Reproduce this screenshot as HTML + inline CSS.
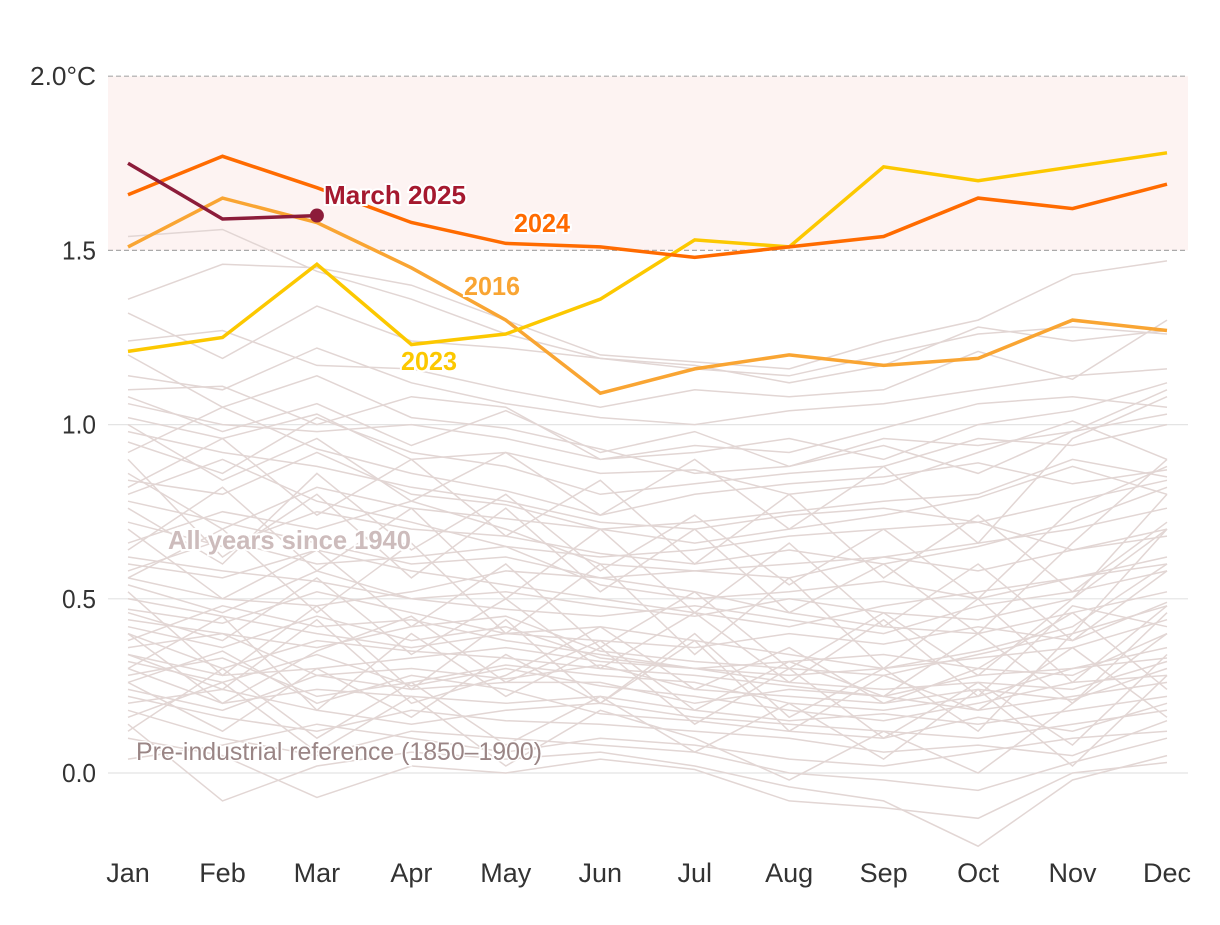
<!DOCTYPE html>
<html><head><meta charset="utf-8"><style>
body{margin:0;background:#fff;}
svg text{font-family:"Liberation Sans Narrow","Liberation Sans",sans-serif;}
</style></head><body>
<svg id="chart" width="1220" height="920" viewBox="0 0 1220 920" xmlns="http://www.w3.org/2000/svg">
<g id="bg"></g><g id="grid"></g><g id="hist"></g><g id="main"></g><g id="labels"></g>
</svg>
<script>
const months=["Jan","Feb","Mar","Apr","May","Jun","Jul","Aug","Sep","Oct","Nov","Dec"];
const yTicks=[0,0.5,1.0,1.5,2.0];
const yTickLabels=["0.0","0.5","1.0","1.5","2.0°C"];
const y2024=[1.66,1.77,1.68,1.58,1.52,1.51,1.48,1.51,1.54,1.65,1.62,1.69];
const y2023=[1.21,1.25,1.46,1.23,1.26,1.36,1.53,1.51,1.74,1.70,1.74,1.78];
const y2016=[1.51,1.65,1.58,1.45,1.30,1.09,1.16,1.20,1.17,1.19,1.30,1.27];
const y2025=[1.75,1.59,1.60];
const history=[
[1.36,1.46,1.45,1.40,1.30,1.20,1.18,1.16,1.24,1.30,1.43,1.47],
[1.32,1.19,1.34,1.24,1.22,1.19,1.17,1.12,1.17,1.28,1.24,1.27],
[1.24,1.27,1.17,1.16,1.10,1.05,1.10,1.08,1.10,1.21,1.13,1.30],
[1.10,1.11,1.00,1.08,1.05,0.90,0.92,0.96,0.90,1.00,1.04,1.12],
[1.20,1.05,1.14,1.02,0.99,0.93,0.86,0.88,0.96,0.94,0.98,1.03],
[1.02,0.96,1.03,0.90,0.92,0.86,0.87,0.80,0.83,0.92,1.01,0.90],
[0.92,1.05,0.93,0.86,0.81,0.74,0.80,0.83,0.85,0.89,0.83,0.87],
[0.84,0.80,0.92,0.80,0.77,0.70,0.66,0.70,0.74,0.79,0.88,0.80],
[0.80,0.90,0.78,0.72,0.65,0.62,0.64,0.68,0.70,0.72,0.64,0.70],
[0.66,0.75,0.70,0.78,0.70,0.60,0.58,0.56,0.62,0.66,0.70,0.76],
[0.58,0.67,0.60,0.62,0.65,0.54,0.50,0.52,0.55,0.50,0.56,0.60],
[0.54,0.46,0.58,0.50,0.47,0.45,0.48,0.44,0.40,0.48,0.52,0.58],
[0.47,0.43,0.52,0.46,0.40,0.38,0.36,0.40,0.37,0.42,0.38,0.49],
[0.42,0.36,0.45,0.38,0.42,0.33,0.30,0.28,0.30,0.33,0.36,0.44],
[0.40,0.30,0.38,0.35,0.33,0.30,0.28,0.25,0.22,0.28,0.30,0.33],
[0.36,0.40,0.28,0.30,0.27,0.31,0.24,0.22,0.20,0.24,0.21,0.30],
[0.32,0.26,0.34,0.25,0.30,0.25,0.22,0.18,0.15,0.20,0.26,0.28],
[0.30,0.20,0.24,0.22,0.20,0.22,0.18,0.15,0.17,0.14,0.18,0.22],
[0.26,0.35,0.20,0.28,0.24,0.17,0.15,0.12,0.10,0.16,0.12,0.20],
[0.22,0.16,0.12,0.18,0.15,0.14,0.12,0.10,0.06,0.08,0.05,0.15],
[0.18,0.10,0.05,0.12,0.10,0.08,0.06,0.00,-0.02,-0.05,0.03,0.10],
[0.14,-0.08,0.02,0.06,0.04,0.06,0.02,-0.04,-0.08,-0.21,-0.02,0.05],
[0.10,0.05,-0.07,0.02,0.00,0.04,0.01,-0.08,-0.10,-0.13,0.00,0.03],
[0.44,0.40,0.36,0.42,0.45,0.35,0.32,0.30,0.28,0.34,0.40,0.48],
[0.50,0.45,0.40,0.36,0.40,0.42,0.38,0.34,0.30,0.35,0.42,0.60],
[0.62,0.58,0.55,0.50,0.52,0.48,0.45,0.50,0.46,0.44,0.50,0.70],
[0.72,0.65,0.75,0.70,0.68,0.63,0.60,0.64,0.60,0.65,0.72,0.82],
[0.86,0.70,0.82,0.76,0.73,0.70,0.72,0.75,0.78,0.80,0.90,0.85],
[0.95,0.86,1.02,0.92,0.88,0.80,0.83,0.86,0.88,0.96,0.94,1.00],
[1.06,1.00,0.98,1.00,0.96,0.90,0.94,0.92,0.99,1.06,1.08,1.05],
[1.14,1.10,1.22,1.12,1.06,1.02,1.00,1.04,1.06,1.10,1.14,1.16],
[1.54,1.56,1.44,1.36,1.26,1.19,1.16,1.14,1.20,1.26,1.28,1.26],
[0.28,0.33,0.22,0.26,0.31,0.28,0.26,0.20,0.18,0.22,0.30,0.36],
[0.34,0.28,0.30,0.33,0.36,0.32,0.30,0.26,0.24,0.26,0.24,0.32],
[0.20,0.24,0.18,0.14,0.18,0.20,0.16,0.14,0.12,0.10,0.14,0.18],
[0.38,0.48,0.42,0.44,0.38,0.34,0.30,0.32,0.34,0.30,0.28,0.40],
[0.56,0.50,0.48,0.52,0.58,0.56,0.52,0.46,0.42,0.40,0.46,0.52],
[0.78,0.72,0.66,0.60,0.62,0.56,0.58,0.60,0.62,0.58,0.64,0.68],
[0.98,0.92,0.88,0.82,0.78,0.72,0.70,0.74,0.76,0.72,0.78,0.84],
[0.04,0.08,0.14,0.10,0.06,0.10,0.08,0.04,0.02,0.06,0.10,0.12],
[0.24,0.18,0.28,0.24,0.26,0.26,0.20,0.24,0.22,0.18,0.22,0.26],
[0.60,0.56,0.64,0.58,0.54,0.50,0.46,0.42,0.48,0.52,0.56,0.62],
[0.30,0.45,0.18,0.40,0.22,0.36,0.14,0.30,0.10,0.26,0.08,0.34],
[0.52,0.28,0.48,0.24,0.44,0.20,0.40,0.16,0.30,0.12,0.40,0.70],
[0.40,0.20,0.35,0.45,0.26,0.38,0.18,0.32,0.22,0.40,0.20,0.46],
[0.70,0.50,0.64,0.42,0.60,0.36,0.52,0.30,0.46,0.28,0.50,0.80],
[0.90,0.62,0.80,0.56,0.76,0.52,0.70,0.46,0.60,0.40,0.66,0.90],
[0.12,0.30,0.10,0.26,0.08,0.22,0.06,0.20,0.04,0.24,0.02,0.28],
[0.46,0.38,0.56,0.34,0.50,0.30,0.46,0.26,0.44,0.22,0.48,0.42],
[0.64,0.82,0.58,0.76,0.50,0.70,0.46,0.66,0.42,0.60,0.38,0.58],
[0.82,0.96,0.74,0.90,0.68,0.84,0.60,0.80,0.56,0.74,0.52,0.72],
[1.00,0.84,0.96,0.78,0.92,0.74,0.90,0.70,0.88,0.66,0.96,1.08],
[0.26,0.12,0.30,0.16,0.34,0.20,0.38,0.12,0.28,0.18,0.36,0.16],
[0.56,0.70,0.46,0.66,0.40,0.60,0.34,0.56,0.30,0.50,0.26,0.48],
[0.34,0.24,0.44,0.20,0.28,0.42,0.24,0.36,0.20,0.30,0.46,0.24],
[0.76,0.60,0.86,0.64,0.80,0.58,0.74,0.54,0.70,0.50,0.76,0.88],
[0.16,0.26,0.06,0.22,0.02,0.18,0.10,-0.02,0.12,0.00,0.20,0.40],
[1.08,0.98,1.06,0.94,1.04,0.92,0.98,0.88,0.94,0.86,0.98,1.10]
];
const NS="http://www.w3.org/2000/svg";
const x0=128,x1=1167,yZero=773,pxPerUnit=348.4;
const xs=i=>x0+i*(x1-x0)/11;
const ys=v=>yZero-v*pxPerUnit;
function mk(tag,attrs,parent){const e=document.createElementNS(NS,tag);for(const k in attrs)e.setAttribute(k,attrs[k]);document.getElementById(parent).appendChild(e);return e;}
const band=mk("rect",{x:108,y:ys(2.0),width:1080,height:ys(1.5)-ys(2.0),fill:"#fdf3f2"},"bg");


yTicks.forEach((t,i)=>{
 const dashed=t>=1.5;
 const l=mk("line",{x1:108,x2:1188,y1:ys(t),y2:ys(t),stroke:dashed?"#aaa":"#e4e4e4","stroke-width":1.2,"stroke-dasharray":dashed?"5,3":"none"},"grid");
 
 
 const tx=mk("text",{x:96,y:ys(t)+9,"text-anchor":"end","font-size":26,fill:"#333",textLength:i==4?66:34,lengthAdjust:"spacingAndGlyphs"},"labels");
 tx.textContent=yTickLabels[i];
 
 
});
months.forEach((m,i)=>{
 const tx=mk("text",{x:xs(i),y:882,"text-anchor":"middle","font-size":27,fill:"#333"},"labels");
 tx.textContent=m;
 
 
});
const path=a=>a.map((v,i)=>(i?"L":"M")+xs(i).toFixed(1)+","+ys(v).toFixed(1)).join("");
history.forEach(a=>{
 const p=mk("path",{d:path(a),fill:"none",stroke:"#e2d6d4","stroke-width":1.5},"hist");
 
 
});
[[y2016,"#f9a533","line-2016"],[y2023,"#fcc800","line-2023"],[y2024,"#ff6b00","line-2024"],[y2025,"#8c1c3a","line-2025"]].forEach(([a,c,n])=>{
 const p=mk("path",{d:path(a),fill:"none",stroke:c,"stroke-width":3.5},"main");
 
 
});
const dot=mk("circle",{cx:xs(2),cy:ys(y2025[2]),r:7,fill:"#8c1c3a"},"main");


const labs=[["March 2025",324,204,"#a5192f",142],["2024",514,232,"#ff6b00",56],["2016",464,295,"#f9a533",56],["2023",401,370,"#fcc800",56],["All years since 1940",168,549,"#cdbcbc",243]];
labs.forEach(([t,x,y,c,w])=>{
 const e=mk("text",{x:x,y:y,"font-size":26,"font-weight":"bold",fill:c,stroke:"#fff","stroke-width":4,"paint-order":"stroke",textLength:w,lengthAdjust:"spacingAndGlyphs"},"labels");
 e.textContent=t;
 
 
});
const pre=mk("text",{x:136,y:760,"font-size":25,fill:"#9a8585",stroke:"#fff","stroke-width":3,"paint-order":"stroke",textLength:406,lengthAdjust:"spacingAndGlyphs"},"labels");
pre.textContent="Pre-industrial reference (1850–1900)";


</script>
</body></html>
